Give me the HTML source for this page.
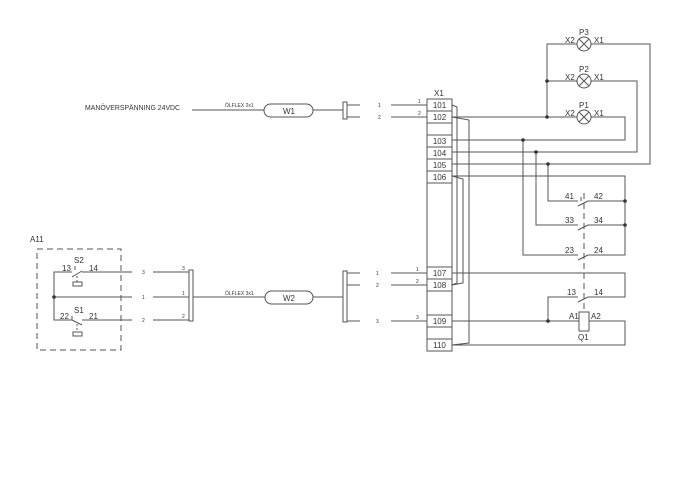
<!DOCTYPE html>
<html><head><meta charset="utf-8"><style>
html,body{margin:0;padding:0;background:#fff;}
svg{display:block;}
text{font-family:"Liberation Sans",sans-serif;fill:#333;}
</style></head><body>
<svg width="690" height="490" viewBox="0 0 690 490" xmlns="http://www.w3.org/2000/svg">
<g stroke="#555" stroke-width="1" fill="none">
<line x1="192" y1="110" x2="264" y2="110"/>
<rect x="264" y="104" width="49" height="13" rx="6.5"/>
<line x1="313" y1="110" x2="343" y2="110"/>
<rect x="343" y="102" width="4" height="17"/>
<line x1="347" y1="105" x2="360" y2="105"/><line x1="347" y1="117" x2="360" y2="117"/>
<line x1="391" y1="105" x2="427" y2="105"/><line x1="391" y1="117" x2="427" y2="117"/>
<rect x="427" y="99" width="25" height="252"/>
<line x1="427" y1="111" x2="452" y2="111"/><line x1="427" y1="123" x2="452" y2="123"/>
<line x1="427" y1="135" x2="452" y2="135"/><line x1="427" y1="147" x2="452" y2="147"/>
<line x1="427" y1="159" x2="452" y2="159"/><line x1="427" y1="171" x2="452" y2="171"/>
<line x1="427" y1="183" x2="452" y2="183"/>
<line x1="427" y1="267" x2="452" y2="267"/><line x1="427" y1="279" x2="452" y2="279"/>
<line x1="427" y1="291" x2="452" y2="291"/>
<line x1="427" y1="315" x2="452" y2="315"/><line x1="427" y1="327" x2="452" y2="327"/>
<line x1="427" y1="339" x2="452" y2="339"/>
<polyline points="452,105 457,107 457,283 452,285"/>
<polyline points="452,176 463,179 463,283 452,285"/>
<polyline points="452,117 469,120 469,343 452,345"/>
<polyline points="547,117 547,44 577,44"/>
<line x1="547" y1="81" x2="577" y2="81"/>
<line x1="452" y1="117" x2="577" y2="117"/>
<circle cx="584" cy="44" r="7"/><circle cx="584" cy="81" r="7"/><circle cx="584" cy="117" r="7"/>
<path d="M579 39l10 10M589 39l-10 10M579 76l10 10M589 76l-10 10M579 112l10 10M589 112l-10 10"/>
<polyline points="591,44 650,44 650,164 452,164"/>
<polyline points="591,81 637,81 637,152 452,152"/>
<polyline points="591,117 625,117 625,140 452,140"/>
<polyline points="452,176 625,176 625,255 588,255"/>
<polyline points="548,164 548,201 578,201"/><line x1="588" y1="201" x2="625" y2="201"/>
<polyline points="536,152 536,225 578,225"/><line x1="588" y1="225" x2="625" y2="225"/>
<polyline points="523,140 523,255 578,255"/>
<path d="M578 206L588 201M578 230L588 225M578 260L588 255M578 302L588 297M581 197v4"/>
<polyline points="452,273 625,273 625,297 588,297"/>
<polyline points="578,297 548,297 548,321"/>
<line x1="452" y1="321" x2="579" y2="321"/>
<rect x="579" y="312" width="10" height="19"/>
<polyline points="589,321 625,321 625,345 452,345"/>
<line x1="584" y1="193" x2="584" y2="312" stroke-dasharray="6,4"/>
<rect x="343" y="271" width="4" height="51"/>
<line x1="347" y1="273" x2="360" y2="273"/><line x1="347" y1="285" x2="360" y2="285"/><line x1="347" y1="321" x2="360" y2="321"/>
<line x1="391" y1="273" x2="427" y2="273"/><line x1="391" y1="285" x2="427" y2="285"/><line x1="391" y1="321" x2="427" y2="321"/>
<line x1="313" y1="297" x2="343" y2="297"/>
<rect x="265" y="291" width="48" height="13" rx="6.5"/>
<line x1="193" y1="297" x2="265" y2="297"/>
<rect x="189" y="270" width="4" height="51"/>
<line x1="153" y1="272" x2="189" y2="272"/><line x1="153" y1="297" x2="189" y2="297"/><line x1="153" y1="320" x2="189" y2="320"/>
<rect x="37" y="249" width="84" height="101" stroke-dasharray="6,4"/>
<polyline points="72,272 54,272 54,320 72,320"/>
<line x1="54" y1="297" x2="132" y2="297"/>
<line x1="82" y1="272" x2="132" y2="272"/><line x1="82" y1="320" x2="132" y2="320"/>
<path d="M72 277L82 271M72 320L82 325M75 266v4M72 316v4"/>
<path d="M77 276v6M77 324v8" stroke-dasharray="2,2"/>
<rect x="73" y="282" width="9" height="4"/><rect x="73" y="332" width="9" height="4"/>
</g>
<g fill="#333">
<circle cx="547" cy="81" r="1.8"/><circle cx="547" cy="117" r="1.8"/>
<circle cx="523" cy="140" r="1.8"/><circle cx="536" cy="152" r="1.8"/><circle cx="548" cy="164" r="1.8"/>
<circle cx="625" cy="201" r="1.8"/><circle cx="625" cy="225" r="1.8"/>
<circle cx="548" cy="321" r="1.8"/><circle cx="54" cy="297" r="1.8"/>
</g>
<g font-size="8">
<text x="85" y="110" font-size="7.5" textLength="95" lengthAdjust="spacingAndGlyphs">MANÖVERSPÄNNING 24VDC</text>
<text x="289" y="114" text-anchor="middle">W1</text>
<text x="289" y="301" text-anchor="middle">W2</text>
<text x="434" y="96">X1</text>
<text x="439.5" y="108" text-anchor="middle">101</text><text x="439.5" y="120" text-anchor="middle">102</text>
<text x="439.5" y="144" text-anchor="middle">103</text><text x="439.5" y="156" text-anchor="middle">104</text>
<text x="439.5" y="168" text-anchor="middle">105</text><text x="439.5" y="180" text-anchor="middle">106</text>
<text x="439.5" y="276" text-anchor="middle">107</text><text x="439.5" y="288" text-anchor="middle">108</text>
<text x="439.5" y="324" text-anchor="middle">109</text><text x="439.5" y="348" text-anchor="middle">110</text>
<text x="579" y="35">P3</text><text x="579" y="72">P2</text><text x="579" y="108">P1</text>
<text x="565" y="43">X2</text><text x="594" y="43">X1</text>
<text x="565" y="80">X2</text><text x="594" y="80">X1</text>
<text x="565" y="116">X2</text><text x="594" y="116">X1</text>
<text x="565" y="199">41</text><text x="594" y="199">42</text>
<text x="565" y="223">33</text><text x="594" y="223">34</text>
<text x="565" y="253">23</text><text x="594" y="253">24</text>
<text x="567" y="295">13</text><text x="594" y="295">14</text>
<text x="569" y="319">A1</text><text x="591" y="319">A2</text>
<text x="578" y="340">Q1</text>
<text x="30" y="242">A11</text>
<text x="74" y="263">S2</text><text x="62" y="271">13</text><text x="89" y="271">14</text>
<text x="74" y="313">S1</text><text x="60" y="319">22</text><text x="89" y="319">21</text>
</g>
<g font-size="5">
<text x="225" y="107">ÖLFLEX 2x1</text>
<text x="225" y="295">ÖLFLEX 3x1</text>
<text x="378" y="107">1</text><text x="378" y="119">2</text>
<text x="418" y="103">1</text><text x="418" y="115">2</text>
<text x="376" y="275">1</text><text x="376" y="287">2</text><text x="376" y="323">3</text>
<text x="416" y="271">1</text><text x="416" y="283">2</text><text x="416" y="319">3</text>
<text x="142" y="274">3</text><text x="142" y="299">1</text><text x="142" y="322">2</text>
<text x="182" y="270">3</text><text x="182" y="295">1</text><text x="182" y="318">2</text>
</g>
</svg>
</body></html>
